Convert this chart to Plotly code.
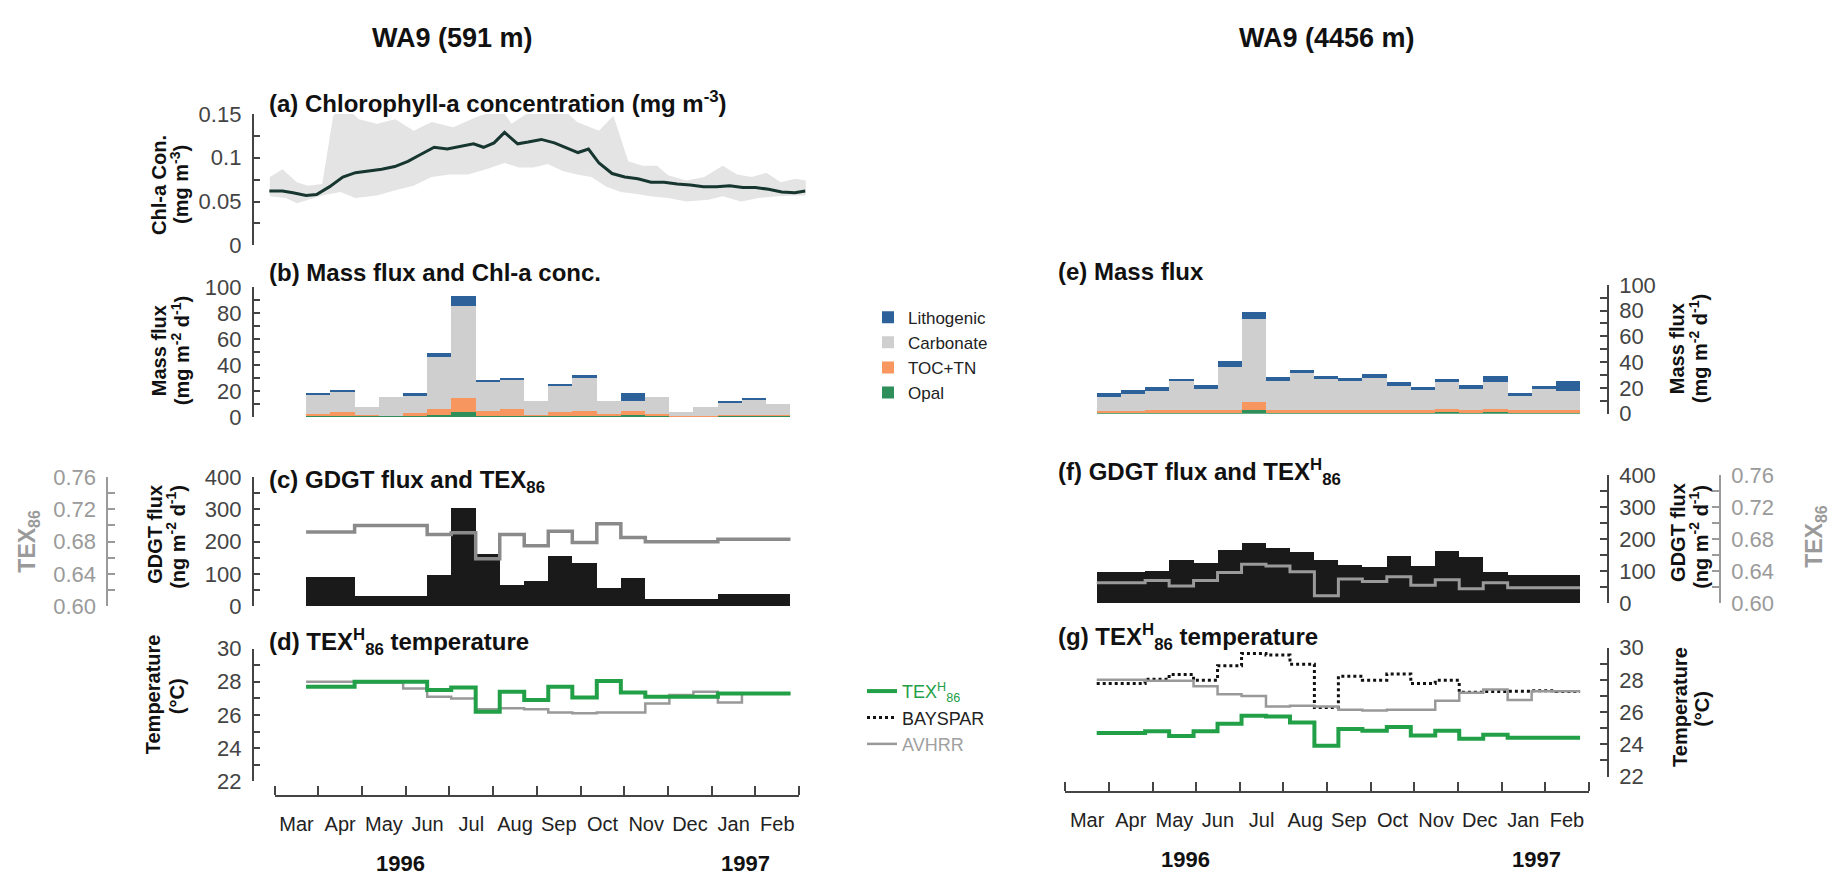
import plotly.graph_objects as go

W, H = 1843, 889
def fx(p): return p / W
def fy(p): return 1 - p / H

FONT = "Liberation Sans, Arial, sans-serif"
AX = "#444444"
TEXGRAY = "#9a9a9a"

# ---------------- data ----------------
month_labels = ["Mar", "Apr", "May", "Jun", "Jul", "Aug", "Sep", "Oct", "Nov", "Dec", "Jan", "Feb"]
month_label_pos = [0.5, 1.5, 2.5, 3.5, 4.5, 5.5, 6.5, 7.5, 8.5, 9.5, 10.5, 11.5]
month_bounds = [0, 1, 2, 3, 4, 5, 6, 7, 8, 9, 10, 11, 12]

# sediment-trap sampling interval edges (months after 1 Mar 1996)
interval_edges = [0.72, 1.27, 1.83, 2.38, 2.94, 3.49, 4.04, 4.60, 5.15, 5.71, 6.26,
                  6.81, 7.37, 7.92, 8.48, 9.03, 9.58, 10.14, 10.69, 11.25, 11.80]

# (a) chlorophyll-a (mg m-3)
chl_x = [-0.12, 0.18, 0.42, 0.72, 0.96, 1.26, 1.56, 1.85, 2.15, 2.45, 2.75, 3.05, 3.35, 3.65,
         3.95, 4.25, 4.55, 4.78, 5.02, 5.26, 5.56, 5.80, 6.10, 6.40, 6.70, 6.94, 7.18, 7.42,
         7.72, 8.01, 8.31, 8.61, 8.91, 9.21, 9.51, 9.81, 10.11, 10.41, 10.71, 11.00, 11.30,
         11.60, 11.90, 12.14]
chl_mean = [0.062, 0.062, 0.060, 0.057, 0.058, 0.067, 0.078, 0.083, 0.085, 0.087, 0.090, 0.096,
            0.104, 0.112, 0.110, 0.113, 0.116, 0.112, 0.117, 0.129, 0.116, 0.118, 0.121, 0.117,
            0.111, 0.106, 0.110, 0.094, 0.082, 0.078, 0.076, 0.072, 0.072, 0.070, 0.069, 0.067,
            0.067, 0.068, 0.066, 0.066, 0.064, 0.061, 0.060, 0.062]
chl_upper_x = [-0.11, 0.18, 0.51, 0.76, 1.09, 1.34, 1.59, 1.93, 2.34, 2.76, 3.18, 3.59, 4.09,
               4.59, 5.17, 5.42, 5.76, 6.09, 6.59, 6.92, 7.42, 7.75, 8.09, 8.42, 8.75, 9.00,
               9.42, 9.83, 10.25, 10.58, 10.92, 11.25, 11.58, 11.91, 12.16]
chl_upper = [0.078, 0.087, 0.072, 0.068, 0.070, 0.148, 0.160, 0.144, 0.139, 0.144, 0.131, 0.141,
             0.135, 0.146, 0.156, 0.139, 0.150, 0.156, 0.156, 0.141, 0.131, 0.148, 0.096, 0.091,
             0.091, 0.080, 0.074, 0.078, 0.091, 0.081, 0.078, 0.083, 0.072, 0.076, 0.074]
chl_lower_x = [-0.11, 0.26, 0.51, 0.76, 1.09, 1.51, 1.84, 2.34, 2.76, 3.18, 3.59, 4.01, 4.42,
               4.84, 5.26, 5.59, 5.92, 6.25, 6.59, 6.92, 7.25, 7.59, 7.92, 8.25, 8.59, 9.00,
               9.42, 9.92, 10.25, 10.67, 11.08, 11.50, 11.91, 12.16]
chl_lower = [0.056, 0.054, 0.048, 0.052, 0.057, 0.061, 0.054, 0.057, 0.063, 0.068, 0.078, 0.081,
             0.081, 0.087, 0.094, 0.089, 0.089, 0.093, 0.085, 0.081, 0.078, 0.067, 0.061, 0.059,
             0.056, 0.054, 0.050, 0.052, 0.056, 0.050, 0.054, 0.056, 0.057, 0.057]

# (b) mass flux components at 591 m (mg m-2 d-1)
opal_591 = [0.8, 0.8, 0.5, 0.5, 0.8, 1.2, 3.8, 1.0, 0.6, 0.5, 1.0, 1.0, 0.5, 1.2, 0.5, 0.3, 0.3, 0.8, 0.8, 0.8]
toc_591 = [1.7, 3.2, 0.8, 0.5, 2.5, 4.6, 10.8, 3.5, 5.9, 1.0, 3.0, 3.5, 1.5, 3.8, 2.0, 0.7, 0.7, 0.7, 0.7, 0.7]
carb_591 = [14.3, 15.2, 6.2, 14.6, 13.0, 40.2, 71.1, 22.4, 21.9, 11.1, 20.1, 25.7, 10.6, 7.5, 12.6, 2.8, 6.5, 9.1, 11.4, 8.5]
lith_591 = [1.0, 1.2, 0.0, 0.0, 2.5, 3.0, 8.0, 1.5, 1.2, 0.0, 1.0, 2.0, 0.0, 6.3, 0.0, 0.0, 0.0, 1.0, 1.2, 0.0]

# (c) GDGT flux (ng m-2 d-1) and TEX86 at 591 m
gdgt_591 = [92, 92, 32, 32, 32, 97, 305, 162, 65, 80, 155, 135, 58, 87, 23, 23, 23, 40, 40, 40]
tex86_591 = [0.692, 0.692, 0.700, 0.700, 0.700, 0.689, 0.691, 0.659, 0.689, 0.675, 0.693, 0.679,
             0.702, 0.685, 0.680, 0.680, 0.680, 0.683, 0.683, 0.683]

# (d) temperatures at 591 m (deg C)
texh_temp_591 = [27.7, 27.7, 28.0, 28.0, 28.0, 27.5, 27.65, 26.2, 27.4, 26.9, 27.7, 27.05, 28.05,
                 27.35, 27.1, 27.1, 27.1, 27.3, 27.3, 27.3]
avhrr_sst = [28.0, 28.0, 27.95, 27.95, 27.6, 27.1, 27.0, 26.35, 26.4, 26.35, 26.15, 26.1, 26.15,
             26.15, 26.7, 27.2, 27.4, 26.75, 27.3, 27.3]

# (e) mass flux components at 4456 m
opal_4456 = [0.8, 0.8, 0.8, 0.8, 0.8, 0.8, 3.0, 0.8, 0.8, 0.8, 0.8, 0.8, 0.8, 0.8, 1.5, 0.8, 1.5, 0.8, 0.8, 0.8]
toc_4456 = [1.2, 1.2, 2.0, 2.0, 2.0, 2.2, 5.7, 2.0, 2.0, 2.0, 2.0, 2.0, 2.0, 2.0, 1.8, 2.0, 1.8, 2.0, 2.0, 2.0]
carb_4456 = [11.25, 13.5, 14.75, 23.0, 16.7, 33.25, 65.05, 22.75, 28.45, 24.0, 22.7, 24.7, 18.45,
             15.25, 21.0, 16.5, 21.25, 10.95, 16.45, 14.7]
lith_4456 = [2.5, 2.5, 3.2, 1.2, 2.5, 4.5, 5.0, 2.7, 3.0, 2.7, 2.5, 3.0, 3.0, 2.7, 2.7, 2.7, 4.7, 2.5, 2.5, 7.5]

# (f) GDGT flux and TEX86 at 4456 m
gdgt_4456 = [96, 98, 101, 134, 127, 167, 189, 172, 159, 135, 118, 114, 149, 116, 162, 145, 96, 89, 89, 89]
tex86_4456 = [0.6255, 0.6255, 0.6284, 0.6215, 0.6284, 0.6385, 0.6486, 0.6466, 0.6393, 0.6093,
              0.6304, 0.6271, 0.6332, 0.6223, 0.6292, 0.6182, 0.6255, 0.6194, 0.6194, 0.6194]

# (g) temperatures at 4456 m
texh_temp_4456 = [24.71, 24.71, 24.81, 24.51, 24.81, 25.28, 25.78, 25.72, 25.36, 23.91, 24.95, 24.85,
                  25.08, 24.55, 24.85, 24.35, 24.6, 24.41, 24.41, 24.41]
bayspar_4456 = [27.77, 27.77, 28.03, 28.33, 27.97, 28.87, 29.64, 29.54, 28.97, 26.28, 28.23, 27.97,
                28.37, 27.77, 27.97, 27.23, 27.27, 27.29, 27.33, 27.27]

# ---------------- helpers ----------------
centers = [(a + b) / 2 for a, b in zip(interval_edges[:-1], interval_edges[1:])]
widths = [b - a for a, b in zip(interval_edges[:-1], interval_edges[1:])]

def step_y(vals):
    return list(vals) + [vals[-1]]

C_LITH = "#2d6199"
C_CARB = "#cfcfcf"
C_TOC = "#f7975f"
C_OPAL = "#2e8f5a"
C_GREEN = "#22a047"
C_AVHRR = "#999999"

fig = go.Figure()

# (a)
fig.add_trace(go.Scatter(x=chl_upper_x + chl_lower_x[::-1], y=chl_upper + chl_lower[::-1],
                         fill="toself", fillcolor="#e4e4e4", line=dict(width=0), mode="lines",
                         xaxis="x", yaxis="y", showlegend=False, hoverinfo="skip"))
fig.add_trace(go.Scatter(x=chl_x, y=chl_mean, mode="lines", line=dict(color="#17362f", width=3),
                         xaxis="x", yaxis="y", showlegend=False))

# (b) and (e) stacked bars
components = [
    ("Opal", C_OPAL, opal_591, opal_4456),
    ("TOC+TN", C_TOC, toc_591, toc_4456),
    ("Carbonate", C_CARB, carb_591, carb_4456),
    ("Lithogenic", C_LITH, lith_591, lith_4456),
]
for name, col, v591, v4456 in components:
    fig.add_trace(go.Bar(x=centers, y=v591, width=widths, marker=dict(color=col, line=dict(width=0)),
                         name=name, xaxis="x2", yaxis="y2", legend="legend", showlegend=True))
    fig.add_trace(go.Bar(x=centers, y=v4456, width=widths, marker=dict(color=col, line=dict(width=0)),
                         name=name, xaxis="x5", yaxis="y6", showlegend=False))

# (c)
fig.add_trace(go.Bar(x=centers, y=gdgt_591, width=widths, marker=dict(color="#1a1a1a", line=dict(width=0)),
                     xaxis="x3", yaxis="y3", showlegend=False))
fig.add_trace(go.Scatter(x=interval_edges, y=step_y(tex86_591), mode="lines", line_shape="hv",
                         line=dict(color="#8a8a8a", width=3.5), xaxis="x3", yaxis="y4", showlegend=False))
# (f)
fig.add_trace(go.Bar(x=centers, y=gdgt_4456, width=widths, marker=dict(color="#1a1a1a", line=dict(width=0)),
                     xaxis="x6", yaxis="y7", showlegend=False))
fig.add_trace(go.Scatter(x=interval_edges, y=step_y(tex86_4456), mode="lines", line_shape="hv",
                         line=dict(color="#9a9a9a", width=3), xaxis="x6", yaxis="y8", showlegend=False))

# (d)
fig.add_trace(go.Scatter(x=interval_edges, y=step_y(avhrr_sst), mode="lines", line_shape="hv",
                         line=dict(color=C_AVHRR, width=2.5), xaxis="x4", yaxis="y5", showlegend=False))
fig.add_trace(go.Scatter(x=interval_edges, y=step_y(texh_temp_591), mode="lines", line_shape="hv",
                         line=dict(color=C_GREEN, width=4), xaxis="x4", yaxis="y5", showlegend=False))
# (g)
fig.add_trace(go.Scatter(x=interval_edges, y=step_y(texh_temp_4456), mode="lines", line_shape="hv",
                         line=dict(color=C_GREEN, width=4), xaxis="x7", yaxis="y9", legend="legend2",
                         name="<span style='color:#22a047'>TEX<sup>H</sup><sub>86</sub></span>"))
fig.add_trace(go.Scatter(x=interval_edges, y=step_y(bayspar_4456), mode="lines", line_shape="hv",
                         line=dict(color="#111111", width=3, dash="dot"), xaxis="x7", yaxis="y9",
                         legend="legend2", name="BAYSPAR"))
fig.add_trace(go.Scatter(x=interval_edges, y=step_y(avhrr_sst), mode="lines", line_shape="hv",
                         line=dict(color=C_AVHRR, width=2.5), xaxis="x7", yaxis="y9",
                         legend="legend2", name="<span style='color:#a0a0a0'>AVHRR</span>"))

# ---------------- axes ----------------
LX0, LX1 = 274.6, 799.2
RX0, RX1 = 1065.3, 1588.8
PXM_L = (LX1 - LX0) / 12

def xhidden(dom, rng, anchor):
    return dict(domain=[fx(dom[0]), fx(dom[1])], range=rng, visible=False, anchor=anchor, fixedrange=True)

def yax(top, bottom, rng, pos, side, dtick, mdtick, color=AX, fmt=None, overlaying=None):
    d = dict(domain=[fy(bottom), fy(top)], range=rng, anchor="free", position=fx(pos), side=side,
             showline=True, linecolor=color, linewidth=1.5, ticks="inside", ticklen=7, tickwidth=1.5,
             tickcolor=color, tickmode="linear", tick0=rng[0], dtick=dtick,
             minor=dict(tickmode="linear", tick0=rng[0], dtick=mdtick, ticks="inside", ticklen=7,
                        tickwidth=1.5, tickcolor=color),
             showgrid=False, zeroline=False, ticklabelstandoff=6,
             tickfont=dict(family=FONT, size=22, color=color), fixedrange=True)
    if fmt:
        d["tickformat"] = fmt
    if overlaying:
        d["overlaying"] = overlaying
    return d

def xmonth(dom, pos):
    return dict(domain=[fx(dom[0]), fx(dom[1])], range=[0, 12], anchor="free", position=fy(pos),
                showline=True, linecolor=AX, linewidth=1.5, tickmode="array",
                tickvals=month_label_pos, ticktext=month_labels, ticks="",
                minor=dict(tickmode="array", tickvals=month_bounds, ticks="inside", ticklen=9,
                           tickwidth=1.5, tickcolor=AX),
                showgrid=False, zeroline=False, ticklabelstandoff=10,
                tickfont=dict(family=FONT, size=20, color="#222"), fixedrange=True)

YL = 252.6
YR = 1608
YR2 = 1720
fig.update_layout(
    xaxis=xhidden((LX0 - 0.15 * PXM_L, LX1 + 0.15 * PXM_L), [-0.15, 12.15], "y"),
    yaxis=yax(105, 240, [0, 0.15], YL, "left", 0.05, 0.025),
    xaxis2=xhidden((LX0, LX1), [0, 12], "y2"),
    yaxis2=yax(283.3, 416.7, [0, 100], YL, "left", 20, 10),
    xaxis3=xhidden((LX0, LX1), [0, 12], "y3"),
    yaxis3=yax(478.3, 611.7, [0, 400], YL, "left", 100, 50),
    yaxis4=yax(478.3, 611.7, [0.60, 0.76], 107.2, "left", 0.04, 0.02, color=TEXGRAY, fmt=".2f",
               overlaying="y3"),
    xaxis4=xmonth((LX0, LX1), 806.7),
    yaxis5=yax(655, 791.7, [22, 30], YL, "left", 2, 1),
    xaxis5=xhidden((RX0, RX1), [0, 12], "y6"),
    yaxis6=yax(280.7, 413.3, [0, 100], YR, "right", 20, 10),
    xaxis6=xhidden((RX0, RX1), [0, 12], "y7"),
    yaxis7=yax(476.7, 608.3, [0, 400], YR, "right", 100, 50),
    yaxis8=yax(476.7, 608.3, [0.60, 0.76], YR2, "right", 0.04, 0.02, color=TEXGRAY, fmt=".2f",
               overlaying="y7"),
    xaxis7=xmonth((RX0, RX1), 802.7),
    yaxis9=yax(654, 786.7, [22, 30], YR, "right", 2, 1),
)

fig.update_layout(
    width=W, height=H, autosize=False, margin=dict(l=0, r=0, t=0, b=0),
    paper_bgcolor="white", plot_bgcolor="rgba(0,0,0,0)", barmode="stack",
    font=dict(family=FONT, color="#222"),
    legend=dict(x=fx(868), y=fy(296), xanchor="left", yanchor="top", traceorder="reversed",
                font=dict(family=FONT, size=17, color="#222"), bgcolor="rgba(0,0,0,0)",
                itemwidth=30, tracegroupgap=0),
    legend2=dict(x=fx(862), y=fy(680), xanchor="left", yanchor="top", traceorder="normal",
                 font=dict(family=FONT, size=18, color="#222"), bgcolor="rgba(0,0,0,0)",
                 itemwidth=30),
)

ann = []
def text(x, y, s, size, bold=False, color="#111", xanchor="center", angle=0):
    ann.append(dict(x=fx(x), y=fy(y), xref="paper", yref="paper", text=s, showarrow=False,
                    xanchor=xanchor, yanchor="middle", textangle=angle,
                    font=dict(family=FONT, size=size, color=color, weight="bold" if bold else "normal")))

# headers
text(452, 27, "WA9 (591 m)", 27, True)
text(1327, 27, "WA9 (4456 m)", 27, True)
# panel titles
text(267, 93, "(a) Chlorophyll-a concentration (mg m<sup>-3</sup>)", 24, True, xanchor="left")
text(267, 268, "(b) Mass flux and Chl-a conc.", 24, True, xanchor="left")
text(267, 483, "(c) GDGT flux and TEX<sub>86</sub>", 24, True, xanchor="left")
text(267, 648, "(d) TEX<sup>H</sup><sub>86</sub> temperature", 24, True, xanchor="left")
text(1056, 267, "(e) Mass flux", 24, True, xanchor="left")
text(1056, 473, "(f) GDGT flux and TEX<sup>H</sup><sub>86</sub>", 24, True, xanchor="left")
text(1056, 643, "(g) TEX<sup>H</sup><sub>86</sub> temperature", 24, True, xanchor="left")
# axis titles left
text(159, 178, "Chl-a Con.", 20, True, angle=-90)
text(180, 178, "(mg m<sup>-3</sup>)", 20, True, angle=-90)
text(159, 349, "Mass flux", 20, True, angle=-90)
text(180, 349, "(mg m<sup>-2</sup> d<sup>-1</sup>)", 20, True, angle=-90)
text(155, 538, "GDGT flux", 20, True, angle=-90)
text(176, 540, "(ng m<sup>-2</sup> d<sup>-1</sup>)", 20, True, angle=-90)
text(29, 545, "TEX<sub>86</sub>", 23, True, color=TEXGRAY, angle=-90)
text(153, 702, "Temperature", 20, True, angle=-90)
text(177, 704, "(°C)", 20, True, angle=-90)
# axis titles right
text(1677, 347, "Mass flux", 20, True, angle=-90)
text(1698, 347, "(mg m<sup>-2</sup> d<sup>-1</sup>)", 20, True, angle=-90)
text(1678, 536, "GDGT flux", 20, True, angle=-90)
text(1699, 540, "(ng m<sup>-2</sup> d<sup>-1</sup>)", 20, True, angle=-90)
text(1816, 540, "TEX<sub>86</sub>", 23, True, color=TEXGRAY, angle=-90)
text(1680, 715, "Temperature", 20, True, angle=-90)
text(1702, 717, "(°C)", 20, True, angle=-90)
# years
text(400, 876, "1996", 22, True)
text(745, 876, "1997", 22, True)
text(1185, 872, "1996", 22, True)
text(1536, 872, "1997", 22, True)

fig.update_layout(annotations=ann)
fig.write_html("out.html")
